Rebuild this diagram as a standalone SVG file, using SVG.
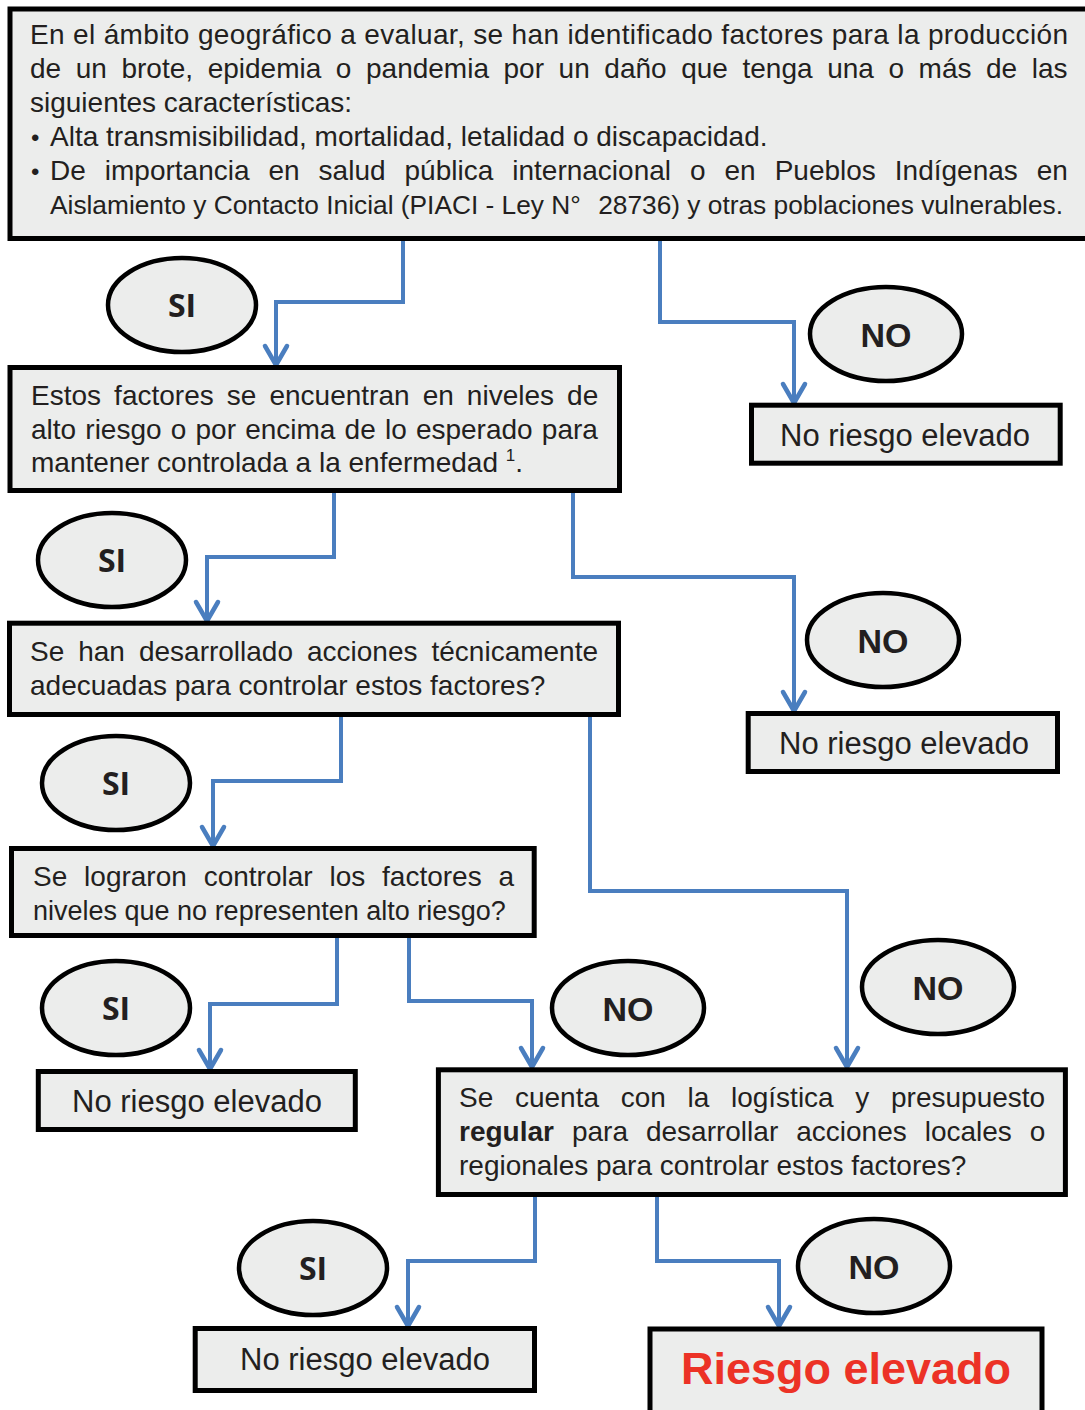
<svg xmlns="http://www.w3.org/2000/svg" width="1085" height="1410" viewBox="0 0 1085 1410">
<style>
.box{fill:#ecedec;stroke:#000;stroke-width:5}
.oval{fill:#ecedec;stroke:#000;stroke-width:4.5}
.t{font-family:"Liberation Sans",Arial,sans-serif;font-size:28px;fill:#231f20}
.nr{font-family:"Liberation Sans",Arial,sans-serif;font-size:31px;fill:#231f20;text-anchor:middle}
.si{font-family:"Open Sans","Liberation Sans",sans-serif;font-weight:700;font-size:32px;fill:#231f20;text-anchor:middle}
.no{font-family:"Liberation Sans",Arial,sans-serif;font-weight:700;font-size:34px;fill:#231f20;text-anchor:middle}
.con{fill:none;stroke:#4a7ebf;stroke-width:4;stroke-linejoin:miter}
</style>
<defs>
<marker id="arr" markerUnits="userSpaceOnUse" viewBox="-24 -16 28 32" markerWidth="28" markerHeight="32" refX="0" refY="0" orient="auto">
<path d="M-19,-11 L0,0 L-19,11" fill="none" stroke="#4a7ebf" stroke-width="4.5" stroke-linecap="round" stroke-linejoin="round"/>
</marker>
</defs>
<rect width="1085" height="1410" fill="#fff"/>

<g id="connectors">
<path class="con" d="M403,241 V302 H276 V365" marker-end="url(#arr)"/>
<path class="con" d="M660,241 V322 H794 V403" marker-end="url(#arr)"/>
<path class="con" d="M334,493 V557 H207 V621" marker-end="url(#arr)"/>
<path class="con" d="M573,493 V577 H794 V711" marker-end="url(#arr)"/>
<path class="con" d="M341,717 V781 H213 V846" marker-end="url(#arr)"/>
<path class="con" d="M590,717 V891 H847 V1067" marker-end="url(#arr)"/>
<path class="con" d="M337,938 V1004 H210 V1069" marker-end="url(#arr)"/>
<path class="con" d="M409,938 V1001 H532 V1067" marker-end="url(#arr)"/>
<path class="con" d="M535,1197 V1261 H408 V1326" marker-end="url(#arr)"/>
<path class="con" d="M657,1197 V1261 H779 V1326" marker-end="url(#arr)"/>
</g>

<g id="q1">
<rect class="box" x="10" y="9" width="1090" height="229.5"/>
<text class="t" x="30" y="44" textLength="1038" lengthAdjust="spacing">En el ámbito geográfico a evaluar, se han identificado factores para la producción</text>
<text class="t" x="30" y="78" word-spacing="6.8">de un brote, epidemia o pandemia por un daño que tenga una o más de las</text>
<text class="t" x="30" y="112">siguientes características:</text>
<text class="t" x="31" y="146" style="font-size:24px">•</text>
<text class="t" x="50" y="146">Alta transmisibilidad, mortalidad, letalidad o discapacidad.</text>
<text class="t" x="31" y="180" style="font-size:24px">•</text>
<text class="t" x="50" y="180" word-spacing="11.2">De importancia en salud pública internacional o en Pueblos Indígenas en</text>
<text class="t" x="50" y="214" style="font-size:26.3px">Aislamiento y Contacto Inicial (PIACI - Ley N° <tspan dx="10">28736) y otras poblaciones vulnerables.</tspan></text>
</g>

<g id="si1"><ellipse class="oval" cx="182" cy="305" rx="74" ry="47"/><text class="si" x="182" y="317">SI</text></g>
<g id="no1"><ellipse class="oval" cx="886" cy="334" rx="76" ry="47"/><text class="no" x="886" y="347">NO</text></g>

<g id="q2">
<rect class="box" x="10" y="367.5" width="609.5" height="123"/>
<text class="t" x="31" y="405" word-spacing="5.3">Estos factores se encuentran en niveles de</text>
<text class="t" x="31" y="439" word-spacing="1.4">alto riesgo o por encima de lo esperado para</text>
<text class="t" x="31" y="472">mantener controlada a la enfermedad <tspan style="font-size:17px" dy="-11">1</tspan><tspan dy="11">.</tspan></text>
</g>

<g id="nr1"><rect class="box" x="751.5" y="405.2" width="308.7" height="58"/><text class="nr" x="905" y="446">No riesgo elevado</text></g>

<g id="si2"><ellipse class="oval" cx="112" cy="560" rx="74" ry="47"/><text class="si" x="112" y="572">SI</text></g>
<g id="no2"><ellipse class="oval" cx="883" cy="640" rx="76" ry="47"/><text class="no" x="883" y="653">NO</text></g>

<g id="q3">
<rect class="box" x="9.5" y="623.2" width="609" height="91.3"/>
<text class="t" x="30" y="661" word-spacing="6.2">Se han desarrollado acciones técnicamente</text>
<text class="t" x="30" y="695">adecuadas para controlar estos factores?</text>
</g>

<g id="nr2"><rect class="box" x="748.2" y="713.5" width="309.3" height="58"/><text class="nr" x="904" y="754">No riesgo elevado</text></g>

<g id="si3"><ellipse class="oval" cx="116" cy="783" rx="74" ry="47"/><text class="si" x="116" y="795">SI</text></g>

<g id="q4">
<rect class="box" x="11.5" y="848.5" width="522.7" height="87"/>
<text class="t" x="33" y="886" word-spacing="9.06">Se lograron controlar los factores a</text>
<text class="t" x="33" y="920" style="font-size:27px">niveles que no representen alto riesgo?</text>
</g>

<g id="no3"><ellipse class="oval" cx="938" cy="987" rx="76" ry="47"/><text class="no" x="938" y="1000">NO</text></g>
<g id="si4"><ellipse class="oval" cx="116" cy="1008" rx="74" ry="47"/><text class="si" x="116" y="1020">SI</text></g>
<g id="no4"><ellipse class="oval" cx="628" cy="1008" rx="76" ry="47"/><text class="no" x="628" y="1021">NO</text></g>

<g id="nr3"><rect class="box" x="38.3" y="1071.5" width="317" height="58"/><text class="nr" x="197" y="1112">No riesgo elevado</text></g>

<g id="q5">
<rect class="box" x="438.4" y="1069.8" width="627" height="124.7"/>
<text class="t" x="459" y="1107" word-spacing="13.9">Se cuenta con la logística y presupuesto</text>
<text class="t" x="459" y="1141" word-spacing="10.2"><tspan font-weight="700">regular</tspan> para desarrollar acciones locales o</text>
<text class="t" x="459" y="1175">regionales para controlar estos factores?</text>
</g>

<g id="si5"><ellipse class="oval" cx="313" cy="1268" rx="74" ry="47"/><text class="si" x="313" y="1280">SI</text></g>
<g id="no5"><ellipse class="oval" cx="874" cy="1266" rx="76" ry="47"/><text class="no" x="874" y="1279">NO</text></g>

<g id="nr4"><rect class="box" x="195.2" y="1328.5" width="339.3" height="62"/><text class="nr" x="365" y="1370">No riesgo elevado</text></g>

<g id="riesgo"><rect class="box" x="650" y="1329" width="392" height="100"/><text x="846" y="1384" text-anchor="middle" font-family="'Liberation Sans',Arial,sans-serif" font-weight="700" font-size="45" fill="#ec3226">Riesgo elevado</text></g>
</svg>
